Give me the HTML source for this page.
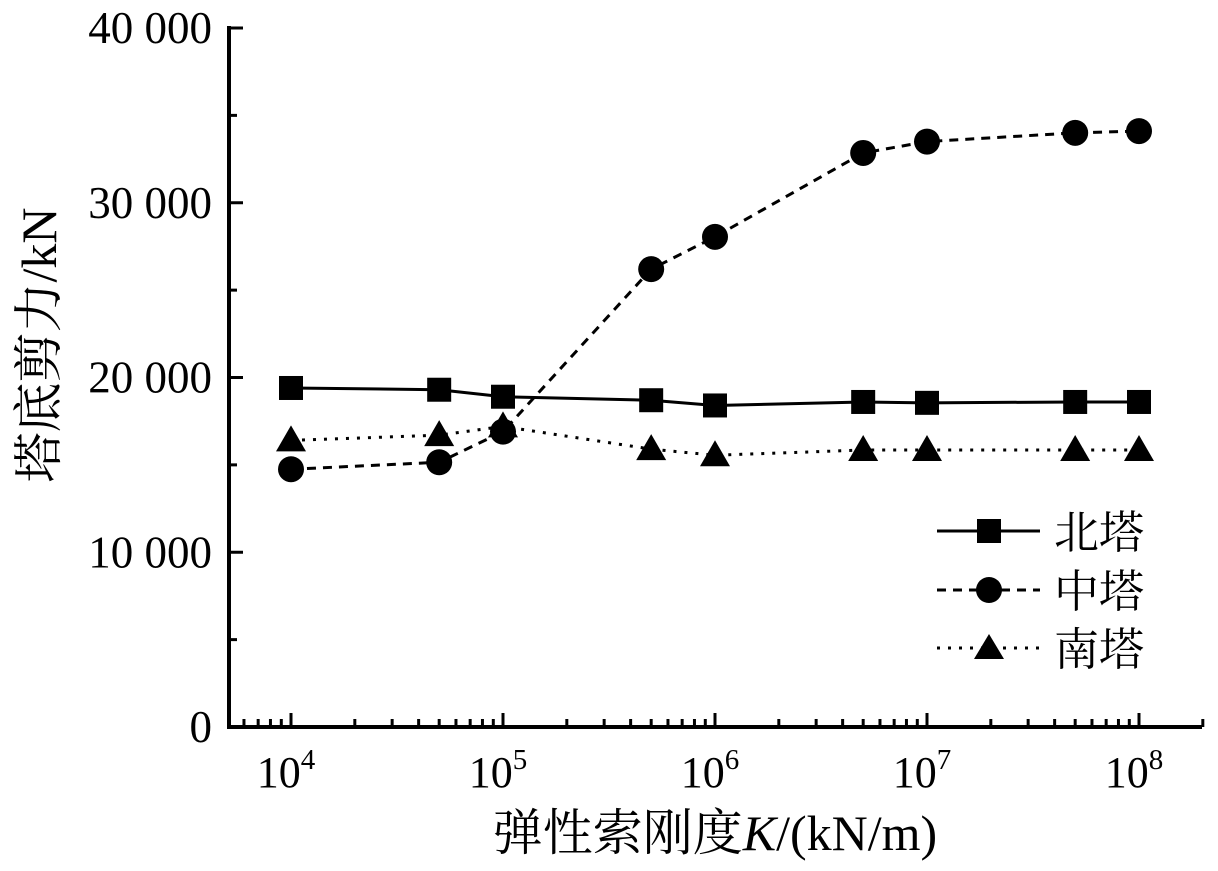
<!DOCTYPE html>
<html><head><meta charset="utf-8"><style>
body{margin:0;background:#fff}
svg text{font-family:"Liberation Serif","Noto Serif CJK SC","Noto Sans CJK SC",serif;fill:#000}
</style></head><body>
<svg width="1218" height="866" viewBox="0 0 1218 866">
<g id="axes"></g><g id="series"></g>
<g>
<line x1="937" y1="531" x2="1040" y2="531" stroke="#000" stroke-width="3"/>
<rect x="977" y="519" width="24" height="24" fill="#000"/>
<text x="1054" y="548" font-size="45">北塔</text>
<line x1="937" y1="590" x2="1040" y2="590" stroke="#000" stroke-width="3" stroke-dasharray="9,7"/>
<circle cx="989" cy="590" r="13" fill="#000"/>
<text x="1054" y="607" font-size="45">中塔</text>
<line x1="937" y1="648" x2="1040" y2="648" stroke="#000" stroke-width="3" stroke-dasharray="3,8"/>
<polygon points="989,634 1004,659 974,659" fill="#000"/>
<text x="1054" y="665" font-size="45">南塔</text>
</g>
<text x="715" y="850" font-size="50" text-anchor="middle">弹性索刚度<tspan font-style="italic">K</tspan>/(kN/m)</text>
<text transform="translate(56,345) rotate(-90)" font-size="50" text-anchor="middle">塔底剪力/kN</text>
</svg>
<script>
const xValues=[1e4,5e4,1e5,5e5,1e6,5e6,1e7,5e7,1e8];
const north=[19400,19300,18900,18700,18400,18600,18550,18600,18600];
const middle=[14750,15150,16900,26200,28050,32850,33500,34000,34100];
const south=[16400,16700,17200,15900,15550,15850,15850,15850,15850];
const yTicks=[0,10000,20000,30000,40000];
const yTickLabels=["0","10 000","20 000","30 000","40 000"];
const xDecades=[4,5,6,7,8];
const NS="http://www.w3.org/2000/svg";
const X0=229,X1=1202,Y0=727,Y1=28;
const xs=v=>291+(Math.log10(v)-4)*212;
const ys=v=>Y0-(v/40000)*(Y0-Y1);
const ax=document.getElementById('axes'),se=document.getElementById('series');
function mk(p,t,a){const e=document.createElementNS(NS,t);for(const k in a)e.setAttribute(k,a[k]);p.appendChild(e);return e;}
let e=mk(ax,'line',{x1:X0,y1:Y0,x2:X1,y2:Y0,stroke:'#000','stroke-width':4});


e=mk(ax,'line',{x1:X0,y1:Y0+2,x2:X0,y2:Y1-2,stroke:'#000','stroke-width':4});


for(let d=3;d<=8;d++)for(let m=1;m<10;m++){const x=xs(m*Math.pow(10,d));if(x<X0+3||x>X1+1)continue;
 const len=m===1?14:8;mk(ax,'line',{x1:x,y1:Y0,x2:x,y2:Y0-len,stroke:'#000','stroke-width':3});}
xDecades.forEach(d=>{const t=mk(ax,'text',{x:xs(Math.pow(10,d))-5,y:787,'font-size':44,'text-anchor':'middle'});
 
 
 t.innerHTML='10<tspan font-size="29" dy="-18">'+d+'</tspan>';});
yTicks.forEach((v,i)=>{const y=ys(v);mk(ax,'line',{x1:X0,y1:y,x2:X0+14,y2:y,stroke:'#000','stroke-width':3});
 if(i<yTicks.length-1)mk(ax,'line',{x1:X0,y1:ys(v+5000),x2:X0+8,y2:ys(v+5000),stroke:'#000','stroke-width':3});
 const t=mk(ax,'text',{x:212,y:y+15,'font-size':45,'text-anchor':'end'});
 
 
 t.textContent=yTickLabels[i];});
function series(vals,dash,marker,name){
 const p=mk(se,'polyline',{points:vals.map((v,i)=>xs(xValues[i])+','+ys(v)).join(' '),fill:'none',stroke:'#000','stroke-width':3,'stroke-dasharray':dash});
 
 
 vals.forEach((v,i)=>{const x=xs(xValues[i]),y=ys(v);let m;
  if(marker==='sq')m=mk(se,'rect',{x:x-12,y:y-12,width:24,height:24,fill:'#000'});
  else if(marker==='c')m=mk(se,'circle',{cx:x,cy:y,r:13,fill:'#000'});
  else m=mk(se,'polygon',{points:`${x},${y-15} ${x+15},${y+11} ${x-15},${y+11}`,fill:'#000'});
  
  });
}
series(north,'none','sq','north-tower');
series(middle,'9,7','c','middle-tower');
series(south,'3,8','t','south-tower');
</script>
</body></html>
